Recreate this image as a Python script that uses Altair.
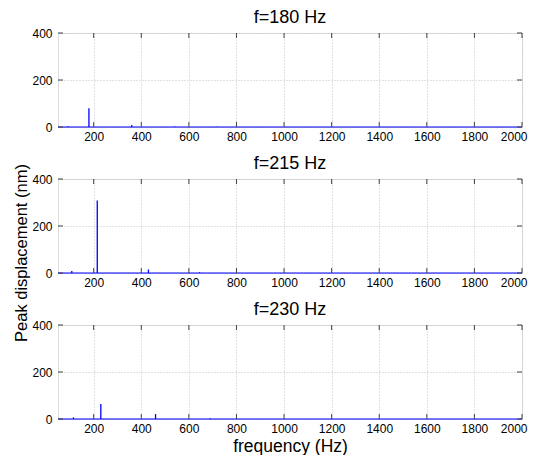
import altair as alt
import pandas as pd

# Data
TITLES = ["f=180 Hz", "f=215 Hz", "f=230 Hz"]
P1_FREQ = [92, 180, 360, 540, 720]
P1_AMP = [3, 80, 9, 2, 1.5]
P2_FREQ = [108, 215, 430, 645]
P2_AMP = [8, 308, 15, 3]
P3_FREQ = [115, 230, 460, 690]
P3_AMP = [7, 64, 21, 3]
X_TICKS = [200, 400, 600, 800, 1000, 1200, 1400, 1600, 1800, 2000]
Y_TICKS = [0, 200, 400]
Y_TITLE = "Peak displacement (nm)"
X_TITLE = "frequency (Hz)"

W, H = 464, 94
FONT = "Liberation Sans"

xscale = alt.Scale(domain=[50, 2000], nice=False, zero=False)
yscale = alt.Scale(domain=[0, 400], nice=False)


def panel(title, freqs, amps, xtitle):
    xaxis = alt.Axis(values=X_TICKS, format="d", grid=True, gridDash=[1, 2], gridColor="#c4c4c4",
                     ticks=False, domain=False, labelFontSize=12, labelColor="#000000",
                     labelPadding=4, labelFont=FONT, labelFlush=True, labelFlushOffset=5,
                     title=xtitle, minExtent=0,
                     titleFontSize=17.5, titleFont=FONT, titleFontWeight="normal",
                     titleColor="#000000", titlePadding=3)
    yaxis = alt.Axis(values=Y_TICKS, format="d", grid=True, gridDash=[1, 2], gridColor="#c4c4c4",
                     ticks=False, domain=False, labelFontSize=12, labelColor="#000000",
                     labelPadding=6, labelFont=FONT, labelFlush=False, title=None, minExtent=0)
    xenc = alt.X("freq:Q", scale=xscale, axis=xaxis)
    yenc = alt.Y("amp:Q", scale=yscale, axis=yaxis)

    df = pd.DataFrame({"freq": freqs, "amp": amps, "base": [0] * len(freqs)})
    spikes = alt.Chart(df).mark_rule(color="#0000ff", strokeWidth=1.3).encode(
        x=xenc, y=yenc, y2="base:Q")

    base_df = pd.DataFrame({"freq": [50, 2000], "amp": [0, 0]})
    baseline = alt.Chart(base_df).mark_line(color="#0000ff", strokeWidth=1).encode(
        x=xenc, y=yenc)

    xt = pd.DataFrame({"freq": X_TICKS})
    bot_ticks = alt.Chart(xt).mark_rule(color="#404040").encode(
        x=xenc, y=alt.value(H), y2=alt.value(H - 5))
    top_ticks = alt.Chart(xt).mark_rule(color="#404040").encode(
        x=xenc, y=alt.value(0), y2=alt.value(5))

    yt = pd.DataFrame({"amp": Y_TICKS})
    left_ticks = alt.Chart(yt).mark_rule(color="#404040").encode(
        y=yenc, x=alt.value(0), x2=alt.value(5))
    right_ticks = alt.Chart(yt).mark_rule(color="#404040").encode(
        y=yenc, x=alt.value(W - 5), x2=alt.value(W))

    return alt.layer(baseline, spikes, bot_ticks, top_ticks, left_ticks, right_ticks).properties(
        width=W, height=H,
        title=alt.TitleParams(title, fontSize=18, font=FONT, fontWeight="normal",
                              color="#000000", offset=0))


panels = alt.vconcat(
    panel(TITLES[0], P1_FREQ, P1_AMP, None),
    panel(TITLES[1], P2_FREQ, P2_AMP, None),
    panel(TITLES[2], P3_FREQ, P3_AMP, X_TITLE),
    spacing=11,
)

ytitle = alt.Chart(pd.DataFrame({"t": [Y_TITLE]})).mark_text(
    angle=270, fontSize=16.5, font=FONT, color="#000000", align="center", baseline="middle"
).encode(text="t:N", x=alt.value(13), y=alt.value(220)).properties(
    width=20, height=400, view=alt.ViewBackground(stroke="transparent"))

chart = alt.hconcat(ytitle, panels, spacing=0).properties(
    padding={"left": 0, "top": 0, "right": 0, "bottom": 0}
).configure_view(stroke="#404040", strokeWidth=1).configure(background="#ffffff")

chart.save("out.html", embed_options={"renderer": "svg", "actions": False})
